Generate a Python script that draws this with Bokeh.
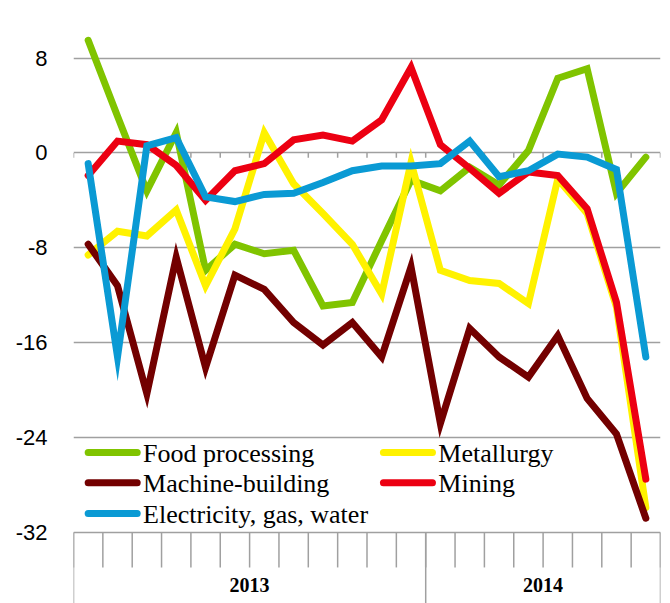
from bokeh.plotting import figure
from bokeh.models import Range1d, FixedTicker
from bokeh.core.properties import value
from bokeh.embed import file_html
from bokeh.resources import INLINE

# ---- data ----
months = ["Jan", "Feb", "Mar", "Apr", "May", "Jun", "Jul", "Aug", "Sep", "Oct", "Nov", "Dec",
          "Jan", "Feb", "Mar", "Apr", "May", "Jun", "Jul", "Aug"]
years = ["2013"] * 12 + ["2014"] * 8

food = [9.5, 3.1, -3.2, 1.7, -9.9, -7.7, -8.5, -8.2, -12.9, -12.6, -7.4, -2.3,
        -3.2, -1.2, -2.7, 0.2, 6.3, 7.1, -3.4, -0.35]
metallurgy = [-8.6, -6.6, -7.0, -4.8, -11.2, -6.4, 1.7, -2.6, -5.1, -7.7, -11.9, -0.8,
              -9.9, -10.75, -11.0, -12.7, -2.2, -5.1, -13.0, -29.9]
machine = [-7.7, -11.2, -20.3, -8.8, -18.1, -10.3, -11.5, -14.3, -16.2, -14.3, -17.2, -9.6,
           -22.8, -14.8, -17.2, -18.9, -15.4, -20.7, -23.7, -30.8]
mining = [-1.9, 1.0, 0.7, -1.05, -4.0, -1.5, -0.9, 1.1, 1.5, 1.0, 2.8, 7.2,
          0.7, -1.3, -3.4, -1.6, -1.9, -4.7, -12.6, -27.5]
electricity = [-0.9, -17.2, 0.6, 1.3, -3.7, -4.1, -3.5, -3.4, -2.5, -1.5, -1.1, -1.1,
               -0.9, 1.0, -2.0, -1.5, -0.1, -0.35, -1.4, -17.2]

y_ticks = [8, 0, -8, -16, -24, -32]

n = len(months)
xs = [i + 0.5 for i in range(n)]

GRID = "#a0a0a0"
Y_BOTTOM = -37.99
SERIF = "Liberation Serif, Times New Roman, DejaVu Serif, serif"

p = figure(width=670, height=603, output_backend="svg", toolbar_location=None,
           x_range=Range1d(0, n), y_range=Range1d(Y_BOTTOM, 11.0),
           x_axis_location=None, min_border_left=73, min_border_right=10,
           min_border_top=22, min_border_bottom=0)
p.outline_line_color = None
p.background_fill_color = "white"
p.border_fill_color = "white"

p.xgrid.visible = False
p.ygrid.ticker = FixedTicker(ticks=y_ticks)
p.ygrid.grid_line_color = GRID
p.ygrid.grid_line_width = 1.5

ax = p.yaxis[0]
ax.ticker = FixedTicker(ticks=y_ticks)
ax.major_label_overrides = {t: str(t) for t in y_ticks}
ax.axis_line_color = None
ax.major_tick_line_color = None
ax.minor_tick_line_color = None
ax.major_label_standoff = 20
ax.major_label_text_font = "Liberation Sans"
ax.major_label_text_font_size = "22px"
ax.major_label_text_color = "black"

# small tick marks on the zero line
bounds = list(range(n + 1))
p.segment(x0=bounds, y0=[0] * len(bounds), x1=bounds, y1=[-0.4] * len(bounds),
          line_color=GRID, line_width=1.5)

# category box below the plot
p.segment(x0=bounds, y0=[-32] * len(bounds), x1=bounds, y1=[-34.95] * len(bounds),
          line_color=GRID, line_width=1.5)
year_names = sorted(set(years))
group_edges = [0] + [years.index(y) for y in year_names[1:]] + [n]
p.segment(x0=group_edges, y0=[-32] * len(group_edges), x1=group_edges,
          y1=[Y_BOTTOM] * len(group_edges), line_color=GRID, line_width=1.5)
centers = [(group_edges[k] + group_edges[k + 1]) / 2 for k in range(len(year_names))]
p.text(x=centers, y=[-36.4] * len(centers), text=year_names,
       text_font=value(SERIF), text_font_style="bold",
       text_font_size="20px", text_align="center", text_baseline="middle",
       text_color="black")

series = [
    ("Food processing", food, "#80c400"),
    ("Metallurgy", metallurgy, "#fff200"),
    ("Machine-building", machine, "#730000"),
    ("Mining", mining, "#ec0012"),
    ("Electricity, gas, water", electricity, "#0a9ad4"),
]
for name, vals, col in series:
    p.line(xs, vals, line_color=col, line_width=7, line_cap="round", line_join="miter")

# legend (two columns, Excel-like), drawn in plot coordinates
legend_slots = {  # name -> (column, row)
    "Food processing": (0, 0), "Metallurgy": (1, 0),
    "Machine-building": (0, 1), "Mining": (1, 1),
    "Electricity, gas, water": (0, 2),
}
col_x0 = [0.5, 10.56]
row_y = [-25.25, -27.8, -30.4]
seg_len = 1.67
lx0, lx1, ly, tx, ty, tt, lc = [], [], [], [], [], [], []
for name, vals, col in series:
    c, r = legend_slots[name]
    lx0.append(col_x0[c]); lx1.append(col_x0[c] + seg_len); ly.append(row_y[r])
    tx.append(col_x0[c] + seg_len + 0.2); ty.append(row_y[r] - 0.05); tt.append(name)
    lc.append(col)
p.segment(x0=lx0, y0=ly, x1=lx1, y1=ly, line_color=lc, line_width=7, line_cap="round")
p.text(x=tx, y=ty, text=tt, text_font=value(SERIF), text_font_size="26px",
       text_align="left", text_baseline="middle", text_color="black")

open("out.html", "w").write(file_html(p, INLINE))
